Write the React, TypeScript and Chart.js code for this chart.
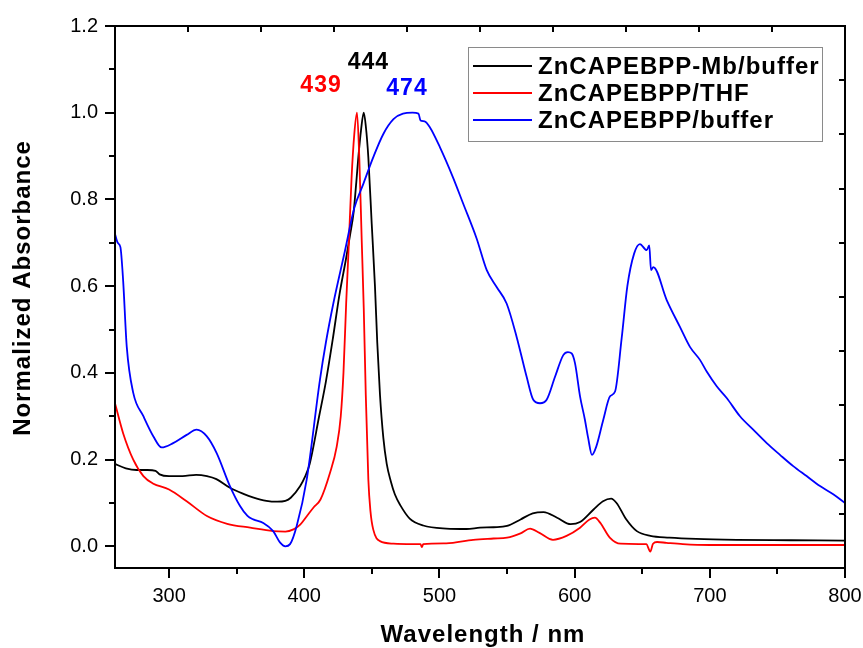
import React, { useEffect, useRef } from 'react';
import { Chart, registerables } from 'chart.js';

Chart.register(...registerables);

// ---------- data ----------
const blackWl = [260,268,276,284,290,293,300,310,320,328,335,345,355,362,372,380,386,390,397,400.5,404,411,416,421,426,431,434,436.5,438.5,440,442,444,445.5,447.4,449.9,452.3,454,456,458.5,461,464,467,471,478,488,505,520,530,540,550,560,569,577,587,597,604,614,621,627,631,638,646,656,670,690,720,760,800];
const blackAbs = [0.190,0.180,0.176,0.176,0.174,0.166,0.162,0.162,0.165,0.162,0.155,0.135,0.121,0.113,0.105,0.103,0.105,0.112,0.139,0.160,0.190,0.300,0.380,0.476,0.580,0.665,0.72,0.77,0.84,0.897,0.96,1.000,0.97,0.897,0.744,0.600,0.470,0.350,0.250,0.190,0.150,0.120,0.095,0.064,0.048,0.041,0.040,0.043,0.044,0.047,0.062,0.076,0.079,0.066,0.051,0.056,0.085,0.104,0.110,0.100,0.063,0.035,0.024,0.020,0.017,0.015,0.014,0.013];

const redWl = [260,266,273.5,281,288,300,313,328,343,360,377,386,392,397,402,407,412,419,424,427,429,431,433,435,437,439,440.7,442.5,444,445.5,447.4,449,451,456,466,480,486,487,488,505,525,540,550,560,567,574,584,594,604,611,615,619,626,634,653,656,658,661,668,680,700,750,800];
const redAbs = [0.330,0.261,0.200,0.162,0.145,0.131,0.104,0.070,0.052,0.043,0.035,0.034,0.039,0.050,0.070,0.090,0.108,0.169,0.230,0.30,0.40,0.56,0.70,0.85,0.95,1.000,0.897,0.706,0.55,0.35,0.154,0.08,0.039,0.012,0.006,0.005,0.005,-0.002,0.005,0.007,0.015,0.018,0.020,0.030,0.041,0.031,0.015,0.024,0.043,0.062,0.066,0.054,0.020,0.006,0.005,-0.012,0.006,0.010,0.008,0.005,0.003,0.003,0.003];

const blueWl = [260,262,264,266,268.7,273.5,281,288.3,294.5,303,313,320.4,327.8,335.2,345,352.5,358,362.3,369.7,377,382,386,389.5,394.4,401.8,411.6,416,421.5,430,437,443.7,451,458.5,466,473,480,484.5,486,489,493,500.4,510,517.6,527.5,535,542.3,549.7,557.1,564.5,569.4,574.4,579.3,585.5,591.6,595,597.8,600.3,604,607.6,610,612.8,616,621.2,626.2,629.9,634.8,639,644,648.3,653.3,655.2,656.5,658.2,668.1,677.9,685.3,692.7,697.7,705.1,712.5,722.3,732.1,742.1,751.9,761.7,771.6,781.5,791.3,800];
const blueAbs = [0.720,0.700,0.690,0.614,0.460,0.354,0.300,0.254,0.228,0.238,0.257,0.269,0.254,0.215,0.139,0.093,0.070,0.062,0.054,0.035,0.009,0.000,0.005,0.047,0.154,0.384,0.470,0.560,0.680,0.780,0.836,0.897,0.951,0.985,0.998,1.000,0.998,0.982,0.980,0.966,0.920,0.851,0.790,0.710,0.637,0.598,0.560,0.483,0.391,0.338,0.330,0.338,0.391,0.441,0.448,0.445,0.422,0.346,0.292,0.250,0.211,0.230,0.292,0.346,0.357,0.480,0.600,0.675,0.697,0.683,0.694,0.637,0.644,0.568,0.506,0.460,0.430,0.403,0.369,0.342,0.300,0.269,0.238,0.211,0.185,0.162,0.139,0.120,0.100];

const seriesLabels = ['ZnCAPEBPP-Mb/buffer', 'ZnCAPEBPP/THF', 'ZnCAPEBPP/buffer'];
const seriesColors = ['#000000', '#ff0000', '#0000ff'];

const xTickValues = [300, 400, 500, 600, 700, 800];
const yTickValues = [0, 0.2, 0.4, 0.6, 0.8, 1.0, 1.2];

const peakTexts = ['444', '439', '474'];
const peakTextColors = ['#000000', '#ff0000', '#0000ff'];
const peakTextWl = [447.4, 412.4, 476];
const peakTextAbs = [1.115, 1.063, 1.056];

const xTitle = 'Wavelength / nm';
const yTitle = 'Normalized Absorbance';

const FONT = "Arial, 'Liberation Sans', sans-serif";

function drawText(ctx: CanvasRenderingContext2D, text: string, x: number, y: number, font: string, color: string, spacing: number, align: CanvasTextAlign = 'center', rot = 0) {
  ctx.save();
  ctx.font = font;
  ctx.fillStyle = color;
  ctx.textAlign = align;
  ctx.textBaseline = 'middle';
  (ctx as any).letterSpacing = spacing + 'px';
  ctx.translate(x, y);
  ctx.rotate(rot);
  ctx.fillText(text, 0, 0);
  ctx.restore();
}

const framePlugin = {
  id: 'originFrame',
  afterDatasetsDraw(chart: any) {
    const ctx: CanvasRenderingContext2D = chart.ctx;
    const { left, right, top, bottom } = chart.chartArea;
    const xs = chart.scales.x;
    const ys = chart.scales.y;
    ctx.save();
    ctx.strokeStyle = '#000';
    ctx.lineWidth = 2;
    const line = (x1: number, y1: number, x2: number, y2: number) => {
      ctx.beginPath();
      ctx.moveTo(x1, y1);
      ctx.lineTo(x2, y2);
      ctx.stroke();
    };
    // frame
    ctx.strokeRect(left, top, right - left, bottom - top);
    // bottom ticks (outward), major every 100, minor every 50
    for (let v = 300; v <= 800; v += 50) {
      const px = Math.round(xs.getPixelForValue(v));
      line(px, bottom, px, bottom + (v % 100 === 0 ? 10 : 6));
    }
    // left ticks (outward), major 0.2, minor 0.1
    for (let i = 0; i <= 12; i++) {
      const py = Math.round(ys.getPixelForValue(i / 10));
      line(left - (i % 2 === 0 ? 10 : 6), py, left, py);
    }
    // top and right ticks (inward), 10 divisions
    for (let i = 1; i < 10; i++) {
      const px = Math.round(left + ((right - left) * i) / 10);
      line(px, top, px, top + 6);
      const py = Math.round(top + ((bottom - top) * i) / 10);
      line(right - 6, py, right, py);
    }
    ctx.restore();

    // legend box
    ctx.save();
    ctx.strokeStyle = '#8a8a8a';
    ctx.lineWidth = 1;
    ctx.strokeRect(468.5, 47.5, 354, 94);
    const rowsY = [66, 93, 120];
    seriesLabels.forEach((lab, i) => {
      ctx.strokeStyle = seriesColors[i];
      ctx.lineWidth = 2;
      ctx.beginPath();
      ctx.moveTo(473, rowsY[i]);
      ctx.lineTo(532, rowsY[i]);
      ctx.stroke();
      drawText(ctx, lab, 538, rowsY[i] + 1, `bold 24px ${FONT}`, '#000', 1, 'left');
    });
    ctx.restore();

    // peak annotations
    peakTexts.forEach((t, i) => {
      drawText(ctx, t, xs.getPixelForValue(peakTextWl[i]), ys.getPixelForValue(peakTextAbs[i]), `bold 23px ${FONT}`, peakTextColors[i], 1, 'center');
    });

    // axis titles
    drawText(ctx, xTitle, 483, 635, `bold 24px ${FONT}`, '#000', 1, 'center');
    drawText(ctx, yTitle, 23, 288, `bold 24px ${FONT}`, '#000', 1, 'center', -Math.PI / 2);
  },
};

export default function App() {
  const ref = useRef<HTMLCanvasElement>(null);
  useEffect(() => {
    if (!ref.current) return;
    const mk = (wl: number[], ab: number[]) => wl.map((x, i) => ({ x, y: ab[i] }));
    const chart = new Chart(ref.current, {
      type: 'line',
      data: {
        datasets: [
          { label: seriesLabels[0], data: mk(blackWl, blackAbs), borderColor: seriesColors[0], order: 2 },
          { label: seriesLabels[1], data: mk(redWl, redAbs), borderColor: seriesColors[1], order: 1 },
          { label: seriesLabels[2], data: mk(blueWl, blueAbs), borderColor: seriesColors[2], order: 0 },
        ].map((d) => ({ ...d, borderWidth: 1.8, pointRadius: 0, fill: false, cubicInterpolationMode: 'monotone' as const })),
      },
      options: {
        animation: false,
        responsive: false,
        devicePixelRatio: 1,
        layout: { padding: { top: 26, right: 18, left: 0, bottom: 0 } },
        plugins: { legend: { display: false }, tooltip: { enabled: false } },
        scales: {
          x: {
            type: 'linear',
            min: 260,
            max: 800,
            border: { display: false },
            grid: { display: false, drawTicks: true, tickLength: 10 },
            ticks: { color: '#000', font: { family: FONT, size: 20 }, padding: 6, callback: (v: any) => String(v) },
            afterBuildTicks: (s: any) => { s.ticks = xTickValues.map((v) => ({ value: v })); },
            afterFit: (s: any) => { s.height = 80; s.paddingLeft = 0; s.paddingRight = 0; },
          },
          y: {
            type: 'linear',
            min: -0.05,
            max: 1.2,
            border: { display: false },
            grid: { display: false, drawTicks: true, tickLength: 10 },
            ticks: { color: '#000', font: { family: FONT, size: 20 }, padding: 7, callback: (v: any) => Number(v).toFixed(1) },
            afterBuildTicks: (s: any) => { s.ticks = yTickValues.map((v) => ({ value: v })); },
            afterFit: (s: any) => { s.width = 115; s.paddingTop = 0; s.paddingBottom = 0; },
          },
        },
      },
      plugins: [framePlugin],
    } as any);
    return () => chart.destroy();
  }, []);
  return (
    <div style={{ position: 'absolute', left: 0, top: 0, width: 863, height: 648, background: '#fff' }}>
      <canvas ref={ref} width={863} height={648} />
    </div>
  );
}
